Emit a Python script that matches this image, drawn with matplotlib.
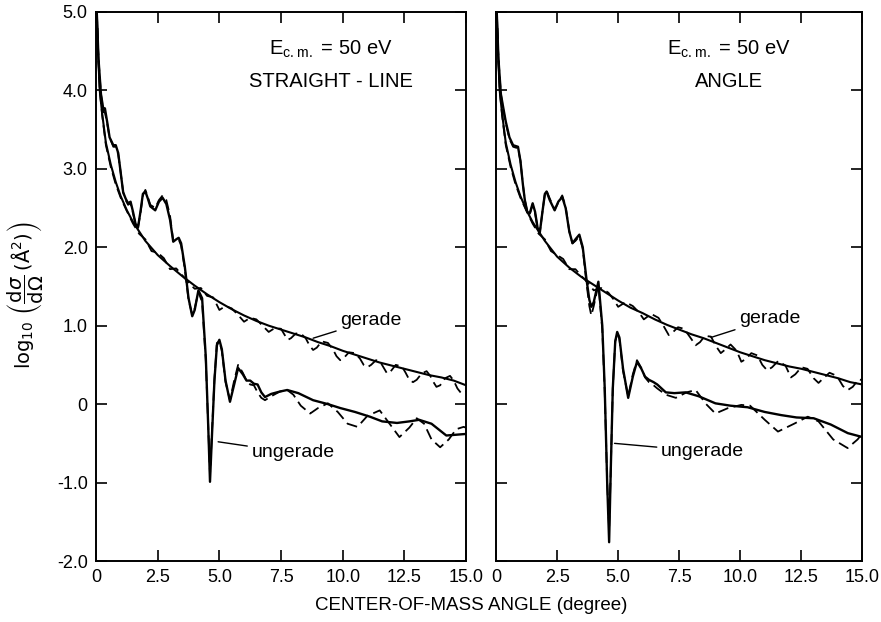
import numpy as np
import matplotlib
matplotlib.use("Agg")
import matplotlib.pyplot as plt
from matplotlib.ticker import FixedLocator, FixedFormatter

plt.rcParams['font.family'] = ['Liberation Sans', 'DejaVu Sans']
plt.rcParams['mathtext.fontset'] = 'dejavusans'

# ---- data (angle in degree, log10 cross section) ----
xticks = [0, 2.5, 5.0, 7.5, 10.0, 12.5, 15.0]
xtick_labels = ['0', '2.5', '5.0', '7.5', '10.0', '12.5', '15.0']
yticks = [-2, -1, 0, 1, 2, 3, 4, 5]
ytick_labels = ['-2.0', '-1.0', '0', '1.0', '2.0', '3.0', '4.0', '5.0']

# straight-line panel
sl_ger_x = [0.03, 0.08, 0.15, 0.25, 0.4, 0.6, 0.8, 1.0, 1.25, 1.5, 1.75, 2.0, 2.5, 3.0, 3.5, 4.0, 4.5,
            5.0, 5.5, 6.0, 6.5, 7.0, 7.5, 8.0, 8.5, 9.0, 9.5, 10.0, 10.5, 11.0, 11.5, 12.0, 12.5,
            13.0, 13.5, 14.0, 14.5, 15.0]
sl_ger_y = [5.0, 4.5, 4.0, 3.7, 3.33, 3.05, 2.83, 2.65, 2.47, 2.32, 2.2, 2.08, 1.9, 1.76, 1.63, 1.51, 1.4,
            1.3, 1.21, 1.13, 1.06, 1.0, 0.95, 0.9, 0.85, 0.79, 0.74, 0.68, 0.63, 0.58, 0.53, 0.49, 0.45,
            0.41, 0.37, 0.34, 0.3, 0.24]

sl_ger_d_x = [0.03, 0.08, 0.15, 0.25, 0.4, 0.6, 0.8, 1.0, 1.25, 1.5, 1.75, 2.0, 2.25, 2.5, 2.75, 3.0,
              3.25, 3.5, 3.75, 4.0, 4.25, 4.5, 4.75, 5.0, 5.25, 5.5, 5.75, 6.0, 6.25, 6.5, 6.75, 7.0,
              7.25, 7.5, 7.65, 7.78, 7.9, 8.1, 8.3, 8.5, 8.65, 8.8, 8.95, 9.15, 9.4, 9.6, 9.75, 9.9,
              10.05, 10.25, 10.5, 10.7, 10.85, 11.0, 11.15, 11.35, 11.5, 11.65, 11.8, 11.95, 12.15,
              12.4, 12.55, 12.7, 12.85, 13.0, 13.2, 13.4, 13.55, 13.7, 13.8, 13.95, 14.15, 14.35,
              14.5, 14.65, 14.8, 14.9, 15.0]
sl_ger_d_y = [5.0, 4.5, 4.0, 3.68, 3.3, 3.02, 2.8, 2.63, 2.46, 2.3, 2.17, 2.1, 1.95, 1.93, 1.86, 1.72,
              1.73, 1.64, 1.55, 1.47, 1.48, 1.38, 1.36, 1.2, 1.25, 1.22, 1.14, 1.05, 1.1, 1.08, 1.0, 0.92,
              0.97, 0.96, 0.88, 0.82, 0.84, 0.9, 0.9, 0.84, 0.75, 0.69, 0.72, 0.8, 0.78, 0.7, 0.61,
              0.56, 0.59, 0.66, 0.65, 0.58, 0.5, 0.47, 0.5, 0.56, 0.55, 0.47, 0.39, 0.42, 0.5, 0.48,
              0.4, 0.31, 0.28, 0.31, 0.39, 0.42, 0.36, 0.27, 0.22, 0.24, 0.33, 0.36, 0.3, 0.2, 0.14,
              0.14, 0.16]

sl_ung_x = [0.03, 0.1, 0.2, 0.3, 0.36, 0.45, 0.55, 0.7, 0.8, 0.9, 1.0, 1.1, 1.2, 1.3, 1.4, 1.5, 1.6,
            1.7, 1.8, 1.9, 2.0, 2.1, 2.2, 2.4, 2.55, 2.7, 2.85, 3.0, 3.13, 3.25, 3.35, 3.45, 3.6, 3.75,
            3.9, 4.0, 4.15, 4.3, 4.45, 4.55, 4.62, 4.7, 4.8, 4.9, 5.0, 5.1, 5.25, 5.43, 5.6, 5.76,
            5.95, 6.1, 6.25, 6.4, 6.55, 6.7, 6.85, 7.1, 7.45, 7.75, 8.2, 8.8, 9.4, 9.9, 10.5, 11.1,
            11.6, 12.2, 12.7, 13.1, 13.6, 14.2, 14.6, 15.0]
sl_ung_y = [5.0, 4.4, 3.95, 3.75, 3.77, 3.6, 3.4, 3.3, 3.3, 3.2, 2.95, 2.7, 2.62, 2.56, 2.58, 2.45, 2.3,
            2.25, 2.45, 2.68, 2.71, 2.62, 2.52, 2.47, 2.58, 2.63, 2.55, 2.35, 2.07, 2.1, 2.12, 2.05,
            1.75, 1.35, 1.12, 1.2, 1.45, 1.35, 0.6, -0.3, -0.99, -0.4, 0.3, 0.75, 0.82, 0.7, 0.3, 0.03,
            0.25, 0.46, 0.38, 0.3, 0.3, 0.26, 0.25, 0.15, 0.09, 0.13, 0.16, 0.18, 0.14, 0.05, 0.0,
            -0.05, -0.1, -0.16, -0.22, -0.24, -0.22, -0.2, -0.25, -0.4, -0.39, -0.38]

sl_ung_d_x = [0.03, 0.1, 0.2, 0.3, 0.36, 0.45, 0.55, 0.7, 0.8, 0.9, 1.0, 1.1, 1.2, 1.3, 1.4, 1.5, 1.6,
              1.7, 1.8, 1.9, 2.0, 2.1, 2.2, 2.4, 2.55, 2.7, 2.85, 3.0, 3.13, 3.25, 3.35, 3.45, 3.6,
              3.75, 3.9, 4.0, 4.15, 4.3, 4.45, 4.55, 4.62, 4.7, 4.8, 4.9, 5.0, 5.1, 5.25, 5.43, 5.6,
              5.76, 5.95, 6.1, 6.25, 6.4, 6.55, 6.7, 6.85, 7.1, 7.45, 7.75, 8.0, 8.3, 8.68, 9.0, 9.4,
              9.8, 10.2, 10.6, 11.0, 11.5, 11.9, 12.3, 12.7, 13.0, 13.3, 13.6, 13.95, 14.3, 14.6,
              14.9, 15.0]
sl_ung_d_y = [5.0, 4.4, 3.95, 3.72, 3.72, 3.58, 3.4, 3.28, 3.28, 3.18, 2.95, 2.7, 2.6, 2.54, 2.56,
              2.43, 2.3, 2.25, 2.43, 2.66, 2.73, 2.64, 2.54, 2.5, 2.6, 2.66, 2.6, 2.4, 2.08, 2.1, 2.1,
              2.02, 1.72, 1.33, 1.14, 1.22, 1.43, 1.3, 0.55, -0.3, -0.9, -0.35, 0.32, 0.78, 0.8, 0.68,
              0.28, 0.05, 0.3, 0.5, 0.4, 0.3, 0.25, 0.24, 0.15, 0.08, 0.05, 0.1, 0.16, 0.18, 0.12,
              -0.02, -0.12, -0.05, 0.01, -0.1, -0.25, -0.29, -0.15, -0.08, -0.25, -0.42, -0.3, -0.18,
              -0.25, -0.45, -0.55, -0.45, -0.32, -0.29, -0.3]

# angle panel
an_ger_x = [0.03, 0.08, 0.15, 0.25, 0.4, 0.6, 0.8, 1.0, 1.25, 1.5, 1.75, 2.0, 2.5, 3.0, 3.5, 4.0, 4.5,
            5.0, 5.5, 6.0, 6.5, 7.0, 7.5, 8.0, 8.5, 9.0, 9.5, 10.0, 10.5, 11.0, 11.5, 12.0, 12.5,
            13.0, 13.5, 14.0, 14.5, 15.0]
an_ger_y = [5.0, 4.5, 4.0, 3.7, 3.33, 3.05, 2.83, 2.65, 2.47, 2.32, 2.2, 2.08, 1.88, 1.74, 1.62, 1.52,
            1.42, 1.32, 1.23, 1.16, 1.08, 1.01, 0.95, 0.89, 0.84, 0.78, 0.72, 0.66, 0.61, 0.56, 0.52,
            0.48, 0.45, 0.41, 0.37, 0.33, 0.28, 0.25]

an_ger_d_x = [0.03, 0.08, 0.15, 0.25, 0.4, 0.6, 0.8, 1.0, 1.25, 1.5, 1.75, 2.0, 2.25, 2.5, 2.75, 3.0,
              3.25, 3.5, 3.75, 4.0, 4.3, 4.6, 4.8, 5.0, 5.3, 5.6, 5.85, 6.05, 6.35, 6.65, 6.85, 7.07,
              7.25, 7.45, 7.7, 7.95, 8.17, 8.35, 8.55, 8.8, 9.0, 9.2, 9.4, 9.6, 9.85, 10.04, 10.2,
              10.45, 10.7, 10.9, 11.1, 11.3, 11.55, 11.85, 12.07, 12.25, 12.5, 12.75, 13.0, 13.2,
              13.4, 13.65, 13.95, 14.2, 14.4, 14.6, 14.85, 15.0]
an_ger_d_y = [5.0, 4.5, 4.0, 3.68, 3.3, 3.02, 2.8, 2.63, 2.46, 2.3, 2.17, 2.1, 1.95, 1.9, 1.85, 1.72,
              1.72, 1.63, 1.55, 1.45, 1.48, 1.42, 1.34, 1.24, 1.3, 1.25, 1.17, 1.08, 1.15, 1.1, 1.0,
              0.88, 0.92, 0.98, 0.96, 0.85, 0.75, 0.79, 0.87, 0.86, 0.74, 0.65, 0.7, 0.76, 0.68,
              0.54, 0.57, 0.65, 0.62, 0.5, 0.43, 0.47, 0.55, 0.49, 0.34, 0.38, 0.47, 0.45, 0.33,
              0.27, 0.33, 0.4, 0.36, 0.23, 0.18, 0.22, 0.32, 0.3]

an_ung_x = [0.03, 0.1, 0.2, 0.29, 0.4, 0.55, 0.7, 0.9, 1.0, 1.1, 1.18, 1.28, 1.38, 1.5, 1.6, 1.7, 1.79,
            1.9, 2.0, 2.07, 2.2, 2.4, 2.55, 2.71, 2.85, 3.0, 3.13, 3.25, 3.41, 3.55, 3.7, 3.82, 3.9,
            4.0, 4.19, 4.35, 4.45, 4.55, 4.63, 4.7, 4.78, 4.88, 4.96, 5.05, 5.2, 5.41, 5.6, 5.77,
            5.95, 6.1, 6.26, 6.45, 6.6, 6.95, 7.3, 7.76, 8.3, 8.98, 9.6, 10.3, 11.0, 11.67, 12.3,
            13.0, 13.7, 14.4, 15.0]
an_ung_y = [5.0, 4.4, 3.95, 3.79, 3.6, 3.4, 3.3, 3.28, 3.1, 2.8, 2.6, 2.45, 2.43, 2.56, 2.45, 2.25,
            2.18, 2.45, 2.68, 2.71, 2.6, 2.47, 2.58, 2.64, 2.5, 2.2, 2.05, 2.1, 2.16, 2.0, 1.6, 1.33,
            1.24, 1.3, 1.56, 1.0, 0.2, -1.0, -1.76, -0.8, 0.2, 0.8, 0.92, 0.85, 0.45, 0.08, 0.35,
            0.54, 0.45, 0.35, 0.31, 0.28, 0.25, 0.15, 0.14, 0.15, 0.1, 0.01, -0.02, -0.04, -0.1,
            -0.14, -0.17, -0.18, -0.26, -0.37, -0.42]

an_ung_d_x = [0.03, 0.1, 0.2, 0.29, 0.4, 0.55, 0.7, 0.9, 1.0, 1.1, 1.18, 1.28, 1.38, 1.5, 1.6, 1.7,
              1.79, 1.9, 2.0, 2.07, 2.2, 2.4, 2.55, 2.71, 2.85, 3.0, 3.13, 3.25, 3.41, 3.55, 3.7,
              3.82, 3.9, 4.0, 4.19, 4.35, 4.45, 4.55, 4.63, 4.7, 4.78, 4.88, 4.96, 5.05, 5.2, 5.41,
              5.6, 5.77, 5.95, 6.1, 6.26, 6.45, 6.6, 6.95, 7.36, 7.8, 8.17, 8.6, 8.98, 9.5, 10.04,
              10.4, 11.0, 11.54, 12.2, 12.76, 13.2, 13.8, 14.39, 14.8, 15.0]
an_ung_d_y = [5.0, 4.4, 3.95, 3.76, 3.58, 3.38, 3.28, 3.26, 3.1, 2.8, 2.6, 2.45, 2.42, 2.54, 2.43,
              2.25, 2.18, 2.45, 2.68, 2.72, 2.62, 2.48, 2.57, 2.66, 2.52, 2.2, 2.05, 2.08, 2.14,
              1.98, 1.55, 1.25, 1.13, 1.25, 1.52, 0.95, 0.15, -1.0, -1.6, -0.8, 0.2, 0.8, 0.9, 0.83,
              0.42, 0.1, 0.38, 0.56, 0.46, 0.34, 0.28, 0.24, 0.2, 0.12, 0.08, 0.15, 0.18, 0.0,
              -0.12, -0.05, -0.01, -0.02, -0.2, -0.35, -0.25, -0.16, -0.22, -0.45, -0.56, -0.45,
              -0.37]

# label text anchor (left edge) and leader line end on the curve
panels = [
    dict(ger=(sl_ger_x, sl_ger_y), ger_d=(sl_ger_d_x, sl_ger_d_y),
         ung=(sl_ung_x, sl_ung_y), ung_d=(sl_ung_d_x, sl_ung_d_y),
         method='STRAIGHT - LINE',
         ger_lbl=((9.9, 1.07), (8.8, 0.84)), ung_lbl=((6.3, -0.62), (4.95, -0.48))),
    dict(ger=(an_ger_x, an_ger_y), ger_d=(an_ger_d_x, an_ger_d_y),
         ung=(an_ung_x, an_ung_y), ung_d=(an_ung_d_x, an_ung_d_y),
         method='ANGLE',
         ger_lbl=((9.95, 1.09), (8.8, 0.85)), ung_lbl=((6.75, -0.6), (4.85, -0.5))),
]

fig = plt.figure(figsize=(8.81, 6.22), dpi=100)
ax1 = fig.add_axes([0.109, 0.098, 0.420, 0.883])
ax2 = fig.add_axes([0.563, 0.098, 0.416, 0.883])

for ax, p in zip([ax1, ax2], panels):
    ax.plot(*p['ger'], color='black', lw=1.5, solid_joinstyle='round')
    ax.plot(*p['ger_d'], color='black', lw=1.3, linestyle=(0, (6, 3)))
    ax.plot(*p['ung'], color='black', lw=1.7, solid_joinstyle='round')
    ax.plot(*p['ung_d'], color='black', lw=1.3, linestyle=(0, (6, 3)))

    ax.set_xlim(0, 15)
    ax.set_ylim(-2, 5)
    ax.xaxis.set_major_locator(FixedLocator(xticks))
    ax.xaxis.set_major_formatter(FixedFormatter(xtick_labels))
    ax.yaxis.set_major_locator(FixedLocator(yticks))
    ax.yaxis.set_major_formatter(FixedFormatter(ytick_labels))
    ax.tick_params(direction='in', length=8, width=1.2, top=True, right=True,
                   labelsize=13, pad=6)
    for s in ax.spines.values():
        s.set_linewidth(1.4)

    ax.text(0.635, 0.932, r'E$_{\mathregular{c.m.}}$ = 50 eV', transform=ax.transAxes,
            ha='center', va='center', fontsize=14.5)
    ax.text(0.635, 0.873, p['method'], transform=ax.transAxes,
            ha='center', va='center', fontsize=14.5)

    (tx, ty), (px, py) = p['ger_lbl']
    ax.annotate('gerade', xy=(px, py), xytext=(tx, ty), ha='left', va='center', fontsize=14,
                arrowprops=dict(arrowstyle='-', color='black', lw=1.0, shrinkA=1, shrinkB=0))
    (tx, ty), (px, py) = p['ung_lbl']
    ax.annotate('ungerade', xy=(px, py), xytext=(tx, ty), ha='left', va='center', fontsize=14,
                arrowprops=dict(arrowstyle='-', color='black', lw=1.0, shrinkA=1, shrinkB=0))

ax2.tick_params(labelleft=False)

ax1.set_ylabel(r'$\mathrm{log}_{10}\ \left(\dfrac{\mathrm{d}\sigma}{\mathrm{d}\Omega}\,(\mathrm{\AA}^2)\right)$',
               fontsize=14)
ax1.yaxis.set_label_coords(-0.135, 0.485)
fig.text(0.535, 0.027, 'CENTER-OF-MASS ANGLE (degree)', ha='center', va='center', fontsize=13.5)

fig.savefig('out.png', dpi=100)
